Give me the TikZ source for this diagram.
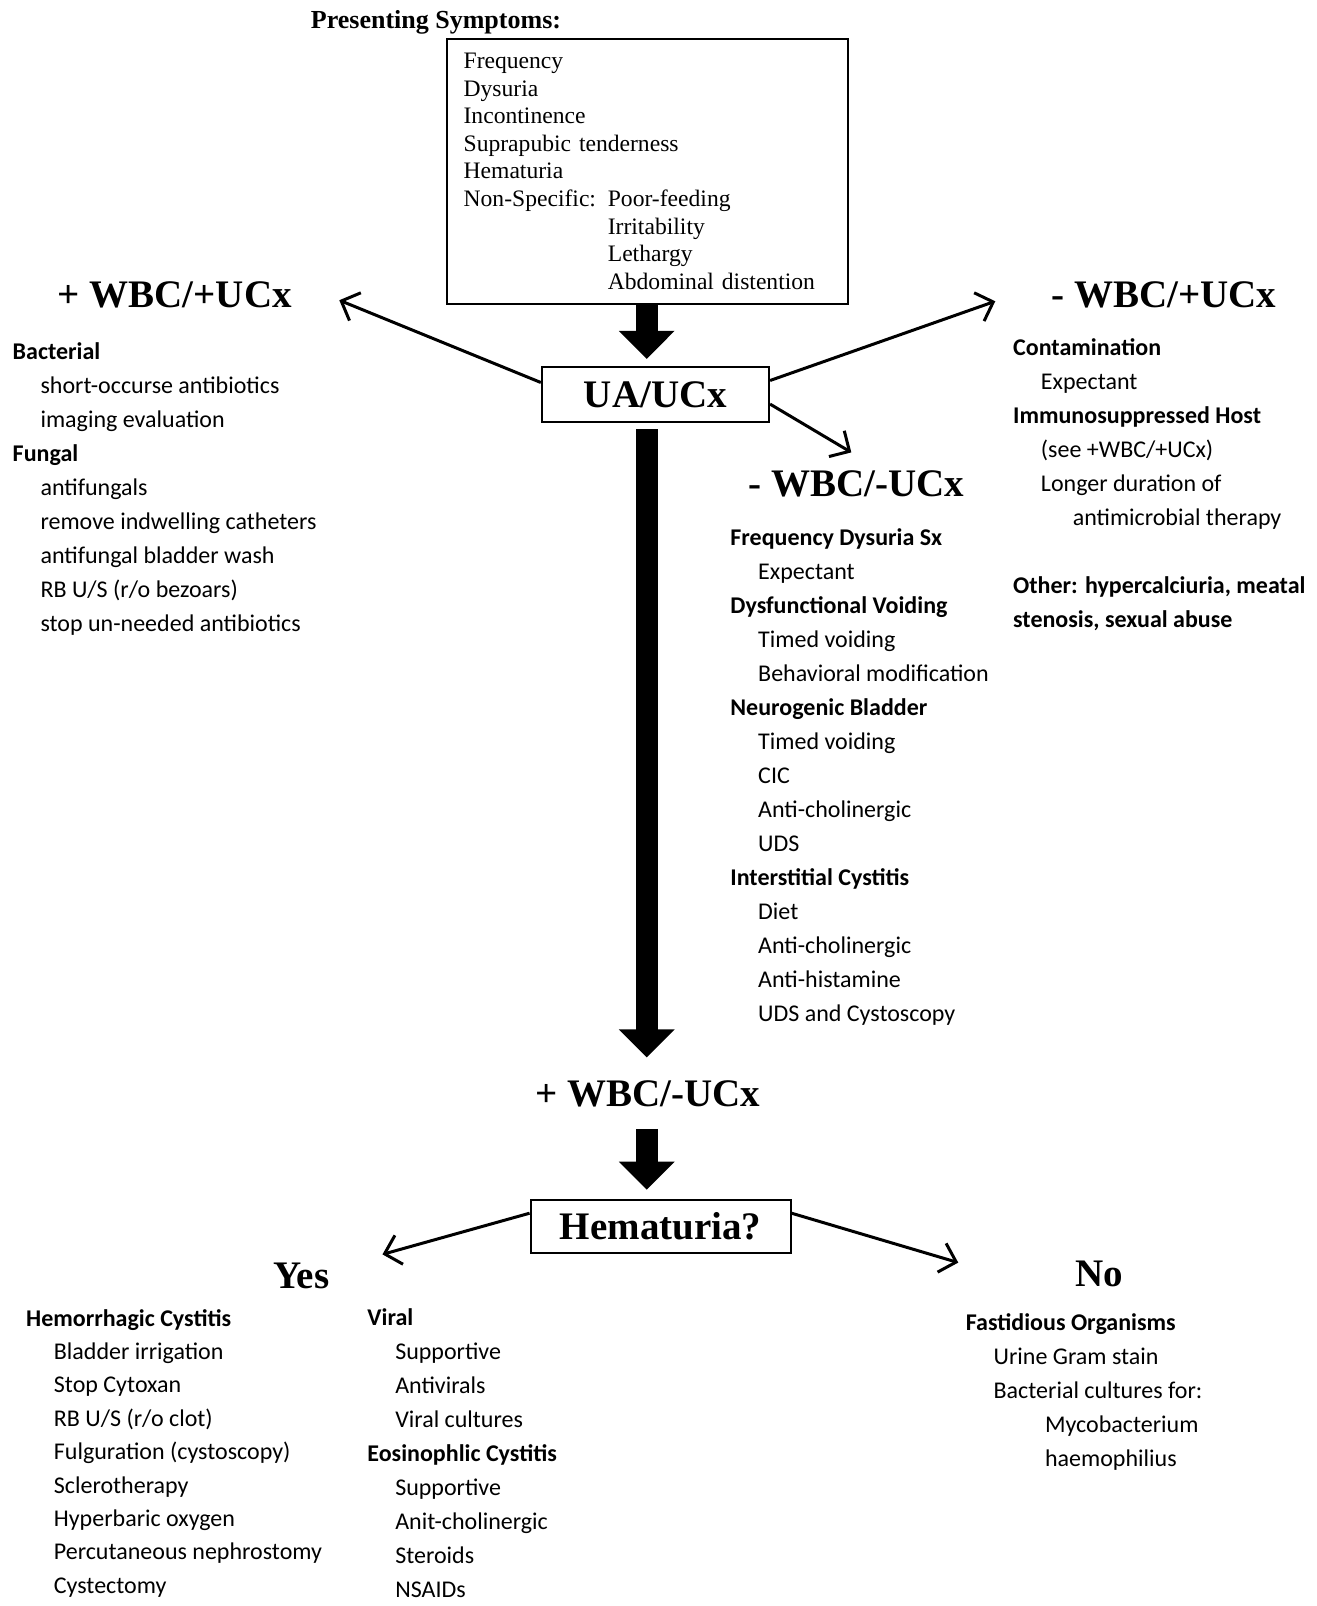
\documentclass[tikz,border=0pt]{standalone}
\usepackage{fontspec}
\setmainfont{Liberation Serif}
\newfontfamily\calibri{Carlito}
\usetikzlibrary{arrows.meta}

\newcommand{\indentone}{\hspace*{13.9pt}}
\newcommand{\indenttwo}{\hspace*{29.8pt}}
\newcommand{\indentthree}{\hspace*{39.6pt}}

\tikzset{
  heading/.style={font=\fontsize{19.5}{22}\selectfont\bfseries, inner sep=0pt, anchor=base},
  decision/.style={draw, line width=1pt, font=\fontsize{19.5}{22}\selectfont\bfseries, inner sep=0pt},
  items/.style={font=\calibri\fontsize{12}{17}\selectfont, align=left, inner sep=0pt, anchor=north west,
                execute at begin node=\strut},
  thinarrow/.style={line width=1.5pt, -{Straight Barb[length=7.5pt,width=15pt]}},
  bigarrow/.style={line width=11pt, -{Triangle[width=27pt,length=14pt]}}
}

\begin{document}
\begin{tikzpicture}[x=0.514pt, y=-0.514pt]
  \useasboundingbox (0,0) rectangle (1280,1562);

  % symptoms box
  \node[font=\fontsize{13}{15}\selectfont\bfseries, inner sep=0pt, anchor=base west] (title) at (302,28) {Presenting Symptoms:};
  \node[draw, line width=1pt, anchor=north west, text width=184pt, inner xsep=8.2pt, inner ysep=7pt,
        font=\fontsize{11.8}{13.8}\selectfont, align=left] (symptoms) at (434,37)
    {Frequency\\
     Dysuria\\
     Incontinence\\
     Suprapubic tenderness\\
     Hematuria\\
     Non-Specific: Poor-feeding\\
     \hphantom{Non-Specific: }Irritability\\
     \hphantom{Non-Specific: }Lethargy\\
     \hphantom{Non-Specific: }Abdominal distention};

  \node[decision, minimum width=113.6pt, minimum height=27.2pt] (ua) at (637.5,383.5) {UA/UCx};
  \coordinate (spine) at (629,0);

  % headings
  \node[heading] (pospos) at (170,299) {+ WBC/+UCx};
  \node[heading] (negpos) at (1132,299) {- WBC/+UCx};
  \node[heading] (negneg) at (833,483) {- WBC/-UCx};
  \node[heading] (posneg) at (630,1076) {+ WBC/-UCx};

  \node[decision, minimum width=130pt, minimum height=26.7pt] (hematuria) at (642.5,1193) {Hematuria?};
  \node[heading] (yes) at (293,1253) {Yes};
  \node[heading] (no) at (1069,1251) {No};

  % arrow tips
  \coordinate (posposTip) at (330,292);
  \coordinate (negposTip) at (968,293);
  \coordinate (negnegTip) at (828,440);
  \coordinate (yesTip) at (372,1220);
  \coordinate (noTip) at (932,1228);

  \draw[bigarrow] (spine |- symptoms.south) -- ([yshift=3.6pt]spine |- ua.north);
  \draw[bigarrow] ([yshift=-3.3pt]spine |- ua.south) -- ([yshift=11.3pt]spine |- posneg.north);
  \draw[bigarrow] ([yshift=-11.3pt]spine |- posneg.base) -- ([yshift=4.6pt]spine |- hematuria.north);

  \draw[thinarrow] ([yshift=5.9pt]ua.west) -- (posposTip);
  \draw[thinarrow] ([yshift=6.9pt]ua.east) -- (negposTip);
  \draw[thinarrow] ([yshift=-4.9pt]ua.east) -- (negnegTip);
  \draw[thinarrow] ([yshift=6.7pt]hematuria.west) -- (yesTip);
  \draw[thinarrow] ([yshift=6.7pt]hematuria.east) -- (noTip);

  % lists
  \node[items] (posposlist) at (12,333)
    {\textbf{Bacterial}\\
     \indentone short-occurse antibiotics\\
     \indentone imaging evaluation\\
     \textbf{Fungal}\\
     \indentone antifungals\\
     \indentone remove indwelling catheters\\
     \indentone antifungal bladder wash\\
     \indentone RB U/S (r/o bezoars)\\
     \indentone stop un-needed antibiotics};

  \node[items] (negposlist) at (985,329)
    {\textbf{Contamination}\\
     \indentone Expectant\\
     \textbf{Immunosuppressed Host}\\
     \indentone (see +WBC/+UCx)\\
     \indentone Longer duration of\\
     \indenttwo antimicrobial therapy\\[17pt]
     \textbf{Other: hypercalciuria, meatal}\\
     \textbf{stenosis, sexual abuse}};

  \node[items] (negneglist) at (710,514)
    {\textbf{Frequency Dysuria Sx}\\
     \indentone Expectant\\
     \textbf{Dysfunctional Voiding}\\
     \indentone Timed voiding\\
     \indentone Behavioral modification\\
     \textbf{Neurogenic Bladder}\\
     \indentone Timed voiding\\
     \indentone CIC\\
     \indentone Anti-cholinergic\\
     \indentone UDS\\
     \textbf{Interstitial Cystitis}\\
     \indentone Diet\\
     \indentone Anti-cholinergic\\
     \indentone Anti-histamine\\
     \indentone UDS and Cystoscopy};

  \node[items, font=\calibri\fontsize{12}{16.7}\selectfont] (hemolist) at (25,1273)
    {\textbf{Hemorrhagic Cystitis}\\
     \indentone Bladder irrigation\\
     \indentone Stop Cytoxan\\
     \indentone RB U/S (r/o clot)\\
     \indentone Fulguration (cystoscopy)\\
     \indentone Sclerotherapy\\
     \indentone Hyperbaric oxygen\\
     \indentone Percutaneous nephrostomy\\
     \indentone Cystectomy};

  \node[items] (virallist) at (357,1272)
    {\textbf{Viral}\\
     \indentone Supportive\\
     \indentone Antivirals\\
     \indentone Viral cultures\\
     \textbf{Eosinophlic Cystitis}\\
     \indentone Supportive\\
     \indentone Anit-cholinergic\\
     \indentone Steroids\\
     \indentone NSAIDs};

  \node[items] (nolist) at (939,1277)
    {\textbf{Fastidious Organisms}\\
     \indentone Urine Gram stain\\
     \indentone Bacterial cultures for:\\
     \indentthree Mycobacterium\\
     \indentthree haemophilius};
\end{tikzpicture}
\end{document}
